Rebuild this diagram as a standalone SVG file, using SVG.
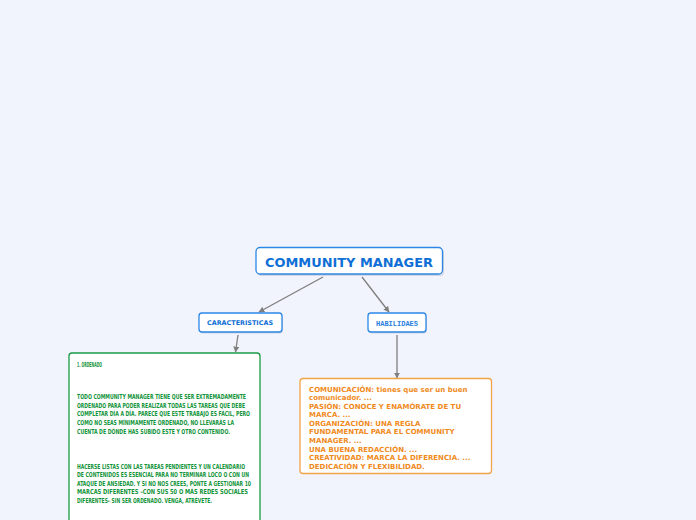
<svg xmlns="http://www.w3.org/2000/svg" width="696" height="520" viewBox="0 0 696 520">
<defs>
<marker id="arr" viewBox="0 0 10 10" refX="9" refY="5" markerWidth="6" markerHeight="6" orient="auto" markerUnits="userSpaceOnUse">
<path d="M0,0 L10,5 L0,10 z" fill="#7f7f7f"/>
</marker>
<style>
.conn{stroke:#7f7f7f;stroke-width:1.3;fill:none;marker-end:url(#arr)}
.box{fill:#ffffff;stroke-width:1.3}
.shadow{fill:#000;opacity:0.12}
.blue{fill:#0f6fd6;font-family:"DejaVu Sans",Verdana,sans-serif;font-weight:bold}
.green{fill:#12943a;font-family:"Liberation Sans Narrow","DejaVu Sans Condensed","Liberation Sans",sans-serif;font-weight:bold;font-size:6.8px}
.orange{fill:#f08a1c;font-family:"DejaVu Sans",Verdana,sans-serif;font-weight:bold;font-size:7px}
</style>
</defs>
<rect x="0" y="0" width="696" height="520" fill="#f1f4fd"/>
<g id="connectors">
<line class="conn" x1="323" y1="277" x2="259" y2="312"/>
<line class="conn" x1="362" y1="277" x2="389" y2="312"/>
<line class="conn" x1="238" y1="335" x2="235.5" y2="352"/>
<line class="conn" x1="397" y1="335" x2="397" y2="378"/>
</g>
<g id="root">
<rect class="shadow" x="257" y="249" width="187" height="27" rx="4"/>
<rect class="box" x="256" y="247.5" width="186.5" height="26.5" rx="4" stroke="#2b87e6"/>
<text class="blue" x="265" y="266.8" font-size="13" textLength="168" lengthAdjust="spacingAndGlyphs">COMMUNITY MANAGER</text>
</g>
<g id="caracteristicas">
<rect class="shadow" x="200" y="314.5" width="83" height="19" rx="3"/>
<rect class="box" x="199" y="313" width="83" height="19" rx="3" stroke="#2b87e6"/>
<text class="blue" x="207" y="325.3" font-size="6.4" textLength="66" lengthAdjust="spacingAndGlyphs">CARACTERISTICAS</text>
</g>
<g id="habilidaes">
<rect class="shadow" x="369" y="314.5" width="58" height="19" rx="3"/>
<rect class="box" x="368" y="313" width="58" height="19" rx="3" stroke="#2b87e6"/>
<text x="397" y="325.5" font-size="7" text-anchor="middle" fill="#2a7fe0" font-family="'Liberation Mono','Courier New',monospace" font-weight="bold">HABILIDAES</text>
</g>
<g id="ordenado">
<rect class="box" x="69" y="353" width="191" height="180" rx="3" stroke="#1a9a45"/>
<text class="green" x="77" y="366.5" textLength="25" lengthAdjust="spacingAndGlyphs">1. ORDENADO</text>
<text class="green" x="77" y="399" textLength="169" lengthAdjust="spacingAndGlyphs">TODO COMMUNITY MANAGER TIENE QUE SER EXTREMADAMENTE</text>
<text class="green" x="77" y="407.7" textLength="168" lengthAdjust="spacingAndGlyphs">ORDENADO PARA PODER REALIZAR TODAS LAS TAREAS QUE DEBE</text>
<text class="green" x="77" y="416.4" textLength="173" lengthAdjust="spacingAndGlyphs">COMPLETAR DÍA A DÍA. PARECE QUE ESTE TRABAJO ES FÁCIL, PERO</text>
<text class="green" x="77" y="425.1" textLength="157" lengthAdjust="spacingAndGlyphs">COMO NO SEAS MÍNIMAMENTE ORDENADO, NO LLEVARÁS LA</text>
<text class="green" x="77" y="433.8" textLength="153" lengthAdjust="spacingAndGlyphs">CUENTA DE DÓNDE HAS SUBIDO ESTE Y OTRO CONTENIDO.</text>
<text class="green" x="77" y="468.5" textLength="168" lengthAdjust="spacingAndGlyphs">HACERSE LISTAS CON LAS TAREAS PENDIENTES Y UN CALENDARIO</text>
<text class="green" x="77" y="477.1" textLength="172" lengthAdjust="spacingAndGlyphs">DE CONTENIDOS ES ESENCIAL PARA NO TERMINAR LOCO O CON UN</text>
<text class="green" x="77" y="485.7" textLength="174" lengthAdjust="spacingAndGlyphs">ATAQUE DE ANSIEDAD. Y SI NO NOS CREES, PONTE A GESTIONAR 10</text>
<text class="green" x="77" y="494.3" textLength="171" lengthAdjust="spacingAndGlyphs">MARCAS DIFERENTES –CON SUS 50 O MÁS REDES SOCIALES</text>
<text class="green" x="77" y="502.9" textLength="135" lengthAdjust="spacingAndGlyphs">DIFERENTES– SIN SER ORDENADO. VENGA, ATRÉVETE.</text>
</g>
<g id="habilidades-lista">
<rect class="box" x="300" y="378.5" width="191.5" height="95" rx="3" stroke="#f3a44a"/>
<text class="orange" x="309" y="391.5">COMUNICACIÓN: tienes que ser un buen</text>
<text class="orange" x="309" y="400">comunicador. ...</text>
<text class="orange" x="309" y="408.6">PASIÓN: CONOCE Y ENAMÓRATE DE TU</text>
<text class="orange" x="309" y="417.2">MARCA. ...</text>
<text class="orange" x="309" y="425.8">ORGANIZACIÓN: UNA REGLA</text>
<text class="orange" x="309" y="434.3">FUNDAMENTAL PARA EL COMMUNITY</text>
<text class="orange" x="309" y="442.9">MANAGER. ...</text>
<text class="orange" x="309" y="451.5">UNA BUENA REDACCIÓN. ...</text>
<text class="orange" x="309" y="460">CREATIVIDAD: MARCA LA DIFERENCIA. ...</text>
<text class="orange" x="309" y="468.6">DEDICACIÓN Y FLEXIBILIDAD.</text>
</g>
</svg>
